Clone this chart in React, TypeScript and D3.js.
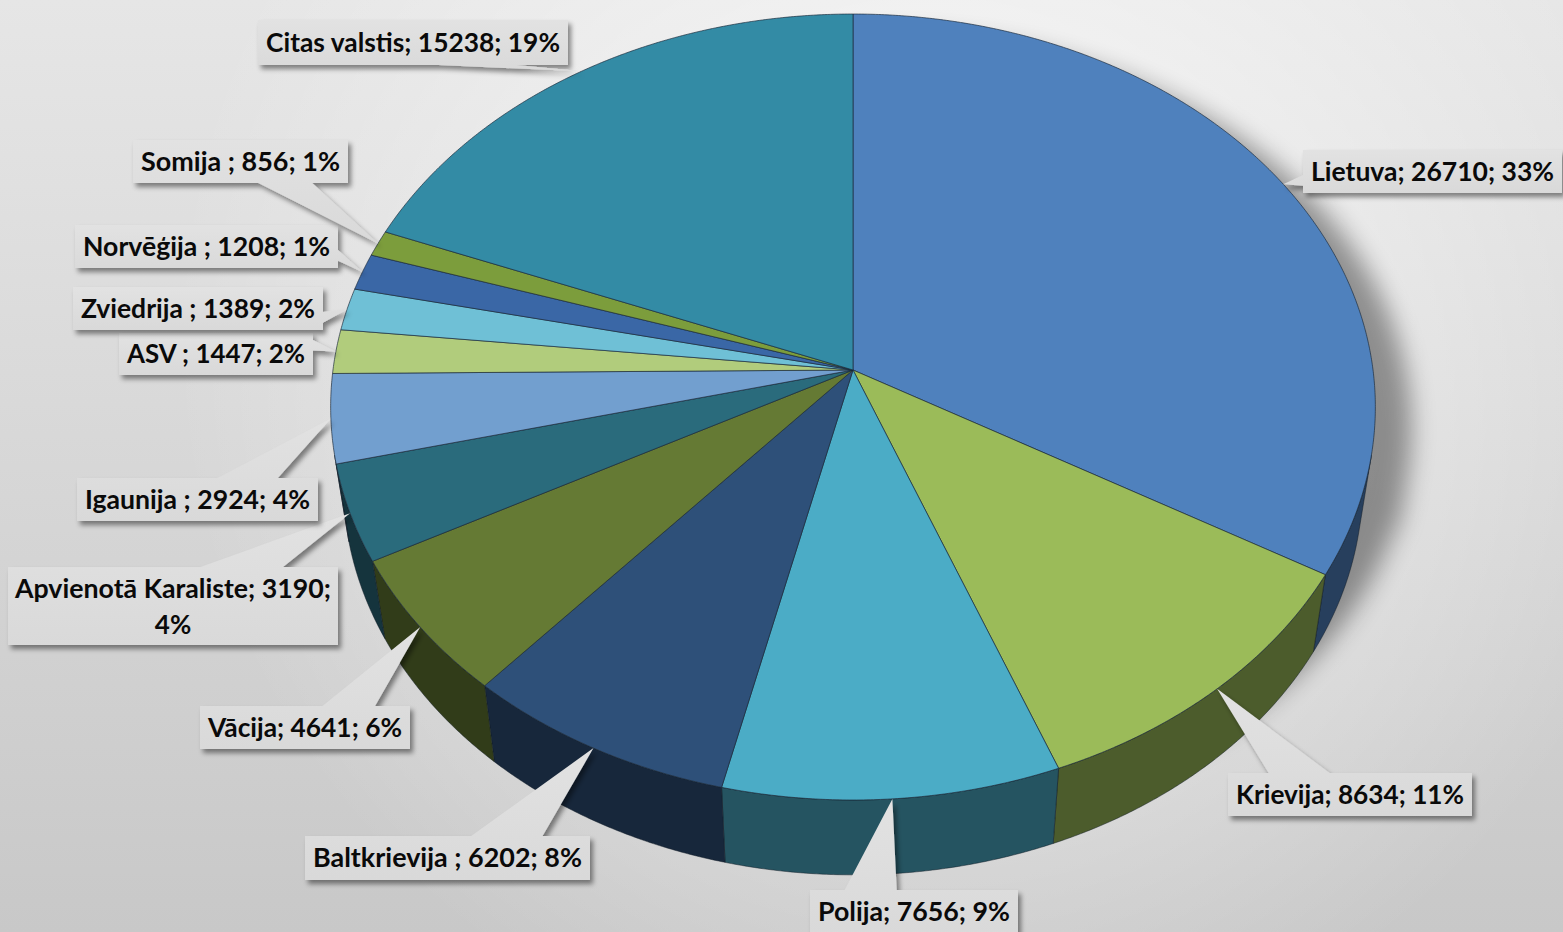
import React from 'react';
import * as d3 from 'd3';

const categories = ['Lietuva', 'Krievija', 'Polija', 'Baltkrievija ', 'Vācija', 'Apvienotā Karaliste', 'Igaunija ', 'ASV ', 'Zviedrija ', 'Norvēģija ', 'Somija ', 'Citas valstis'];
const values = [26710, 8634, 7656, 6202, 4641, 3190, 2924, 1447, 1389, 1208, 856, 15238];
const percentLabels = ['33%', '11%', '9%', '8%', '6%', '4%', '4%', '2%', '2%', '1%', '1%', '19%'];
const colors = ['#4f81bd', '#9bbb59', '#4bacc6', '#2e5079', '#657a34', '#2a6b7c', '#729fcf', '#b1cc7c', '#6fc0d6', '#3a67a6', '#7c9d3c', '#338ba5'];

// label box layout (screen px)
const labelBoxes = [
  { x: 1303, y: 150, w: 259, h: 43 },
  { x: 1228, y: 773, w: 244, h: 43 },
  { x: 810, y: 890, w: 208, h: 44 },
  { x: 305, y: 836, w: 285, h: 44 },
  { x: 200, y: 706, w: 210, h: 43 },
  { x: 8, y: 567, w: 330, h: 78 },
  { x: 77, y: 478, w: 241, h: 43 },
  { x: 119, y: 333, w: 194, h: 42 },
  { x: 73, y: 287, w: 250, h: 43 },
  { x: 75, y: 225, w: 263, h: 43 },
  { x: 133, y: 140, w: 215, h: 43 },
  { x: 258, y: 20, w: 310, h: 45 },
];

// perspective projection of the 3D pie
const CX = 853, CY = 370, F = 3661, DIST = 7.04, COSP = 0.663, SINP = 0.749, THICK = 0.233;
function proj(X: number, Y: number, Z: number): [number, number] {
  const d = DIST + Z * COSP - Y * SINP;
  return [CX + (F * X) / d, CY - (F * (Z * SINP + Y * COSP)) / d];
}
function edge(t: number, Y: number) {
  return proj(Math.sin(t), Y, Math.cos(t));
}
function sample(a0: number, a1: number, Y: number) {
  const n = Math.max(2, Math.ceil(Math.abs(a1 - a0) / 0.006));
  const pts: [number, number][] = [];
  for (let i = 0; i <= n; i++) pts.push(edge(a0 + ((a1 - a0) * i) / n, Y));
  return pts;
}

function calloutPath(b: { x: number; y: number; w: number; h: number }, tip: [number, number]) {
  const { x, y, w, h } = b;
  const cx = x + w / 2, cy = y + h / 2;
  const dx = tip[0] - cx, dy = tip[1] - cy;
  const [tx, ty] = tip;
  if (Math.abs(dx) / w > Math.abs(dy) / h) {
    const y1 = y + (h * (dy < 0 ? 2 : 7)) / 12, y2 = y + (h * (dy < 0 ? 5 : 10)) / 12;
    if (dx < 0) return `M${x},${y}L${x + w},${y}L${x + w},${y + h}L${x},${y + h}L${x},${y2}L${tx},${ty}L${x},${y1}Z`;
    return `M${x},${y}L${x + w},${y}L${x + w},${y1}L${tx},${ty}L${x + w},${y2}L${x + w},${y + h}L${x},${y + h}Z`;
  }
  const x1 = x + (w * (dx < 0 ? 2 : 7)) / 12, x2 = x + (w * (dx < 0 ? 5 : 10)) / 12;
  if (dy < 0) return `M${x},${y}L${x1},${y}L${tx},${ty}L${x2},${y}L${x + w},${y}L${x + w},${y + h}L${x},${y + h}Z`;
  return `M${x},${y}L${x + w},${y}L${x + w},${y + h}L${x2},${y + h}L${tx},${ty}L${x1},${y + h}L${x},${y + h}Z`;
}

export default function App() {
  const arcs = d3.pie<number>().sort(null).value((d) => d)(values);
  const line = d3.line();
  const cosLim = -1 / (DIST * COSP);
  const fMin = Math.acos(cosLim);
  const fMax = 2 * Math.PI - fMin;

  const tops = arcs.map((a, i) => {
    const pts = [proj(0, 0, 0), ...sample(a.startAngle, a.endAngle, 0)];
    return { d: line(pts) + 'Z', color: colors[i] };
  });

  const sides = arcs
    .map((a, i) => {
      const lo = Math.max(a.startAngle, fMin), hi = Math.min(a.endAngle, fMax);
      if (hi <= lo) return null;
      const pts = [...sample(lo, hi, 0), ...sample(hi, lo, -THICK)];
      return { d: line(pts) + 'Z', color: d3.color(colors[i])!.darker(2.0).formatHex() };
    })
    .filter(Boolean) as { d: string; color: string }[];

  const silhouette =
    line([...sample(0, 2 * Math.PI, 0)]) + 'Z' +
    line([...sample(0, 2 * Math.PI, -THICK)]) + 'Z' +
    line([...sample(fMin, fMax, 0), ...sample(fMax, fMin, -THICK)]) + 'Z';

  const labels = arcs.map((a, i) => {
    const mid = (a.startAngle + a.endAngle) / 2;
    const tip = edge(mid, 0);
    const b = labelBoxes[i];
    const lines = b.h > 60
      ? [`${categories[i]}; ${values[i]};`, percentLabels[i]]
      : [`${categories[i]}; ${values[i]}; ${percentLabels[i]}`];
    return { path: calloutPath(b, tip), b, lines };
  });

  return (
    <svg width={1563} height={932} style={{ position: 'absolute', left: 0, top: 0 }}
      fontFamily="Lato, 'Open Sans', sans-serif">
      <defs>
        <linearGradient id="bgLin" x1="0" y1="0" x2="0" y2="1">
          <stop offset="0" stopColor="#e6e6e6" />
          <stop offset="1" stopColor="#c8c8c8" />
        </linearGradient>
        <radialGradient id="bgRad" gradientUnits="userSpaceOnUse" cx={930} cy={330} r={760}>
          <stop offset="0" stopColor="#ffffff" stopOpacity={0.75} />
          <stop offset="0.6" stopColor="#ffffff" stopOpacity={0.3} />
          <stop offset="1" stopColor="#ffffff" stopOpacity={0} />
        </radialGradient>
        <filter id="pieShadow" x="-20%" y="-20%" width="140%" height="140%">
          <feGaussianBlur stdDeviation="12" />
        </filter>
        <filter id="boxShadow" x="-10%" y="-20%" width="120%" height="150%">
          <feDropShadow dx="3" dy="4" stdDeviation="2.5" floodColor="#000" floodOpacity="0.45" />
        </filter>
        <linearGradient id="boxFill" x1="0" y1="0" x2="0" y2="1">
          <stop offset="0" stopColor="#e2e2e2" />
          <stop offset="1" stopColor="#d9d9d9" />
        </linearGradient>
      </defs>
      <rect x={0} y={0} width={1563} height={932} fill="url(#bgLin)" />
      <rect x={0} y={0} width={1563} height={932} fill="url(#bgRad)" />

      <g transform="translate(36,22)" opacity={0.38} filter="url(#pieShadow)">
        <path d={silhouette} fill="#000" fillRule="nonzero" />
      </g>

      <g>
        {sides.map((s, i) => (
          <path key={i} d={s.d} fill={s.color} stroke="#0f1a24" strokeOpacity={0.6} strokeWidth={0.8} strokeLinejoin="round" />
        ))}
      </g>
      <g>
        {tops.map((t, i) => (
          <path key={i} d={t.d} fill={t.color} stroke="#1b2a3a" strokeOpacity={0.75} strokeWidth={0.9} strokeLinejoin="round" />
        ))}
      </g>

      <g>
        {labels.map((l, i) => (
          <g key={i}>
            <path d={l.path} fill="url(#boxFill)" filter="url(#boxShadow)" />
            {l.lines.length === 1 ? (
              <text x={l.b.x + l.b.w / 2} y={l.b.y + l.b.h / 2 + 9} textAnchor="middle" fontSize={26} fontWeight={700}
                fill="#0a0a0a" textLength={l.b.w - 16} lengthAdjust="spacingAndGlyphs">{l.lines[0]}</text>
            ) : (
              <>
                <text x={l.b.x + l.b.w / 2} y={l.b.y + 31} textAnchor="middle" fontSize={26} fontWeight={700}
                  fill="#0a0a0a" textLength={l.b.w - 14} lengthAdjust="spacingAndGlyphs">{l.lines[0]}</text>
                <text x={l.b.x + l.b.w / 2} y={l.b.y + 67} textAnchor="middle" fontSize={26} fontWeight={700}
                  fill="#0a0a0a">{l.lines[1]}</text>
              </>
            )}
          </g>
        ))}
      </g>
    </svg>
  );
}
